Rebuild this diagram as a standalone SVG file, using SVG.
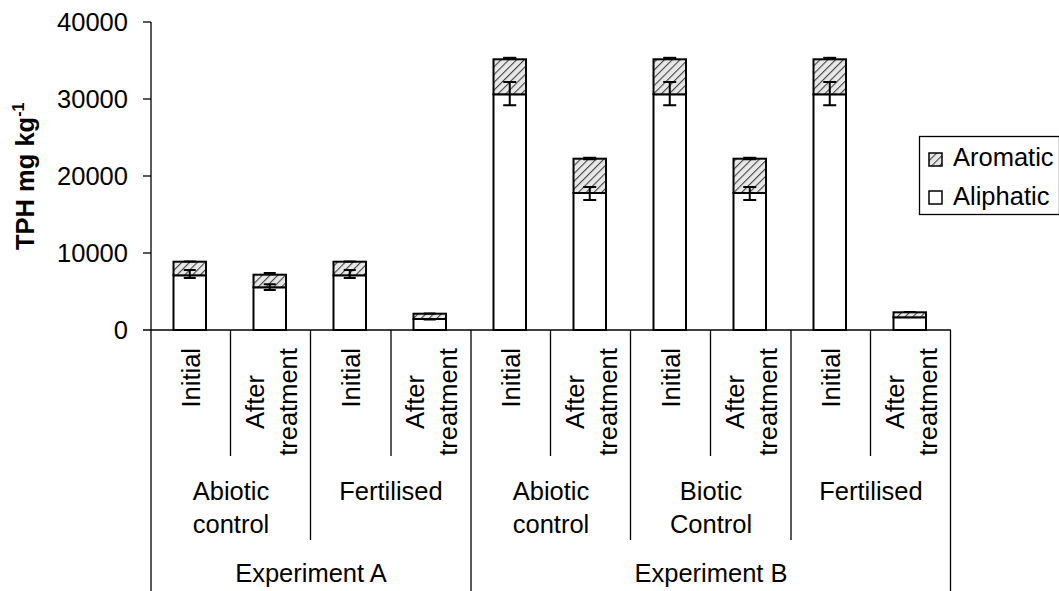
<svg xmlns="http://www.w3.org/2000/svg" width="1059" height="591" viewBox="0 0 1059 591">
<style>
text{font-family:"Liberation Sans",Arial,sans-serif;font-size:25.5px;fill:#000}
.ax{stroke:#000;stroke-width:1.3;fill:none}
.bar{stroke:#000;stroke-width:2;fill:#fff}
.aro{stroke:#000;stroke-width:2;fill:url(#hatch)}
.err{stroke:#000;stroke-width:2;fill:none}
.tick{text-anchor:end}
.mid{text-anchor:middle}
.rend{text-anchor:end}
</style>
<defs>
<pattern id="hatch" patternUnits="userSpaceOnUse" width="5.5" height="5.5" patternTransform="rotate(45)">
<rect width="5.5" height="5.5" fill="#e8e8e8"/>
<line x1="0" y1="0" x2="0" y2="5.5" stroke="#444" stroke-width="2.2"/>
</pattern>
</defs>
<rect width="1059" height="591" fill="#fff"/>

<g id="axes">
<line class="ax" x1="151" y1="22" x2="151" y2="591"/>
<line class="ax" x1="143" y1="330" x2="951" y2="330"/>
<line class="ax" x1="143" y1="22" x2="151" y2="22"/>
<line class="ax" x1="143" y1="99" x2="151" y2="99"/>
<line class="ax" x1="143" y1="176" x2="151" y2="176"/>
<line class="ax" x1="143" y1="253" x2="151" y2="253"/>
<text class="tick" x="128" y="31">40000</text>
<text class="tick" x="128" y="108">30000</text>
<text class="tick" x="128" y="185">20000</text>
<text class="tick" x="128" y="262">10000</text>
<text class="tick" x="128" y="339">0</text>
<text transform="translate(34,250) rotate(-90)" style="font-weight:bold">TPH mg kg<tspan font-size="16" dy="-10">-1</tspan></text>
</g>

<g id="separators">
<line class="ax" x1="230.5" y1="330" x2="230.5" y2="456"/>
<line class="ax" x1="310.5" y1="330" x2="310.5" y2="540"/>
<line class="ax" x1="391" y1="330" x2="391" y2="456"/>
<line class="ax" x1="471" y1="330" x2="471" y2="591"/>
<line class="ax" x1="550.5" y1="330" x2="550.5" y2="456"/>
<line class="ax" x1="630.5" y1="330" x2="630.5" y2="540"/>
<line class="ax" x1="710.5" y1="330" x2="710.5" y2="456"/>
<line class="ax" x1="791" y1="330" x2="791" y2="540"/>
<line class="ax" x1="870.5" y1="330" x2="870.5" y2="456"/>
<line class="ax" x1="950.5" y1="330" x2="950.5" y2="591"/>
</g>

<g id="bar1"><rect class="bar" x="173.5" y="275.3" width="32.5" height="54.7"/><rect class="aro" x="173.5" y="261.7" width="32.5" height="13.6"/>
<path class="err" d="M189.75 270v8M183.75 270h12M183.75 278h12M183.75 261.5h12"/></g>
<g id="bar2"><rect class="bar" x="253.5" y="287.3" width="32.5" height="42.7"/><rect class="aro" x="253.5" y="274.7" width="32.5" height="12.6"/>
<path class="err" d="M269.75 284.3v5.7M263.75 284.3h12M263.75 290h12M263.75 273h12"/></g>
<g id="bar3"><rect class="bar" x="333.5" y="275.3" width="32.5" height="54.7"/><rect class="aro" x="333.5" y="261.7" width="32.5" height="13.6"/>
<path class="err" d="M349.75 270v8M343.75 270h12M343.75 278h12M343.75 261.5h12"/></g>
<g id="bar4"><rect class="bar" x="413.5" y="319" width="32.5" height="11"/><rect class="aro" x="413.5" y="313.7" width="32.5" height="5.3"/>
<path class="err" d="M423.75 319.5h12M423.75 313.5h12"/></g>
<g id="bar5"><rect class="bar" x="493.5" y="94.3" width="32.5" height="235.7"/><rect class="aro" x="493.5" y="59.3" width="32.5" height="35"/>
<path class="err" d="M509.75 82v23.3M503.25 82h13M503.25 105.3h13M503.25 58.3h13"/><path d="M503.25 58.3h13" stroke="#000" stroke-width="3"/></g>
<g id="bar6"><rect class="bar" x="573.5" y="193" width="32.5" height="137"/><rect class="aro" x="573.5" y="158.7" width="32.5" height="34.3"/>
<path class="err" d="M589.75 187v13M583.25 187h13M583.25 200h13"/><path d="M583.25 158.5h13" stroke="#000" stroke-width="3.5"/></g>
<g id="bar7"><rect class="bar" x="653.5" y="94.3" width="32.5" height="235.7"/><rect class="aro" x="653.5" y="59.3" width="32.5" height="35"/>
<path class="err" d="M669.75 82v23.3M663.25 82h13M663.25 105.3h13"/><path d="M663.25 58.3h13" stroke="#000" stroke-width="3"/></g>
<g id="bar8"><rect class="bar" x="733.5" y="193" width="32.5" height="137"/><rect class="aro" x="733.5" y="158.7" width="32.5" height="34.3"/>
<path class="err" d="M749.75 187v13M743.25 187h13M743.25 200h13"/><path d="M743.25 158.5h13" stroke="#000" stroke-width="3.5"/></g>
<g id="bar9"><rect class="bar" x="813.5" y="94.3" width="32.5" height="235.7"/><rect class="aro" x="813.5" y="59.3" width="32.5" height="35"/>
<path class="err" d="M829.75 82v23.3M823.25 82h13M823.25 105.3h13"/><path d="M823.25 58.3h13" stroke="#000" stroke-width="3"/></g>
<g id="bar10"><rect class="bar" x="893.5" y="317.3" width="32.5" height="12.7"/><rect class="aro" x="893.5" y="312.3" width="32.5" height="5"/>
<path class="err" d="M903.75 312h12"/></g>

<g id="category-labels">
<text class="rend" transform="translate(199.5,348) rotate(-90)">Initial</text>
<text class="mid" transform="translate(263.5,402) rotate(-90)">After</text>
<text class="mid" transform="translate(296.5,402) rotate(-90)">treatment</text>
<text class="rend" transform="translate(359.5,348) rotate(-90)">Initial</text>
<text class="mid" transform="translate(423.5,402) rotate(-90)">After</text>
<text class="mid" transform="translate(456.5,402) rotate(-90)">treatment</text>
<text class="rend" transform="translate(519.5,348) rotate(-90)">Initial</text>
<text class="mid" transform="translate(583.5,402) rotate(-90)">After</text>
<text class="mid" transform="translate(616.5,402) rotate(-90)">treatment</text>
<text class="rend" transform="translate(679.5,348) rotate(-90)">Initial</text>
<text class="mid" transform="translate(743.5,402) rotate(-90)">After</text>
<text class="mid" transform="translate(776.5,402) rotate(-90)">treatment</text>
<text class="rend" transform="translate(839.5,348) rotate(-90)">Initial</text>
<text class="mid" transform="translate(903.5,402) rotate(-90)">After</text>
<text class="mid" transform="translate(936.5,402) rotate(-90)">treatment</text>
</g>

<g id="group-labels">
<text class="mid" x="231" y="500">Abiotic</text>
<text class="mid" x="231" y="532.5">control</text>
<text class="mid" x="391" y="500">Fertilised</text>
<text class="mid" x="551" y="500">Abiotic</text>
<text class="mid" x="551" y="532.5">control</text>
<text class="mid" x="711" y="500">Biotic</text>
<text class="mid" x="711" y="532.5">Control</text>
<text class="mid" x="871" y="500">Fertilised</text>
<text class="mid" x="311" y="582">Experiment A</text>
<text class="mid" x="711" y="582">Experiment B</text>
</g>

<g id="legend">
<rect x="919.5" y="136.5" width="140" height="78" fill="#fff" stroke="#000" stroke-width="1.3"/>
<rect x="929" y="153" width="13" height="13" fill="url(#hatch)" stroke="#000" stroke-width="1.5"/>
<text x="953" y="166">Aromatic</text>
<rect x="929" y="191" width="13" height="13" fill="#fff" stroke="#000" stroke-width="1.5"/>
<text x="953" y="204.5">Aliphatic</text>
</g>
</svg>
